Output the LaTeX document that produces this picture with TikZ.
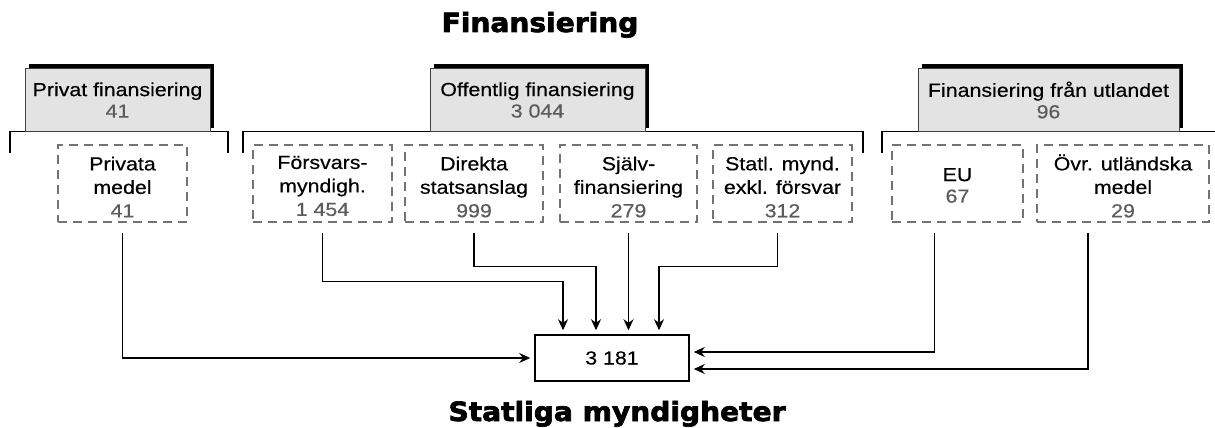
\documentclass[tikz,border=0pt]{standalone}
\usepackage{fontspec}
\setmainfont{Liberation Sans}[FakeStretch=1.13,FakeBold=0.4]
\newfontfamily\titlefont{DejaVu Sans}[UprightFont=*,BoldFont=* Bold,BoldFeatures={FakeBold=2.6},FakeStretch=1.06]
\usetikzlibrary{arrows.meta,shadows}
\definecolor{numgray}{rgb}{0.36,0.36,0.36}
\definecolor{hdrfill}{rgb}{0.89,0.89,0.89}
\newcommand\gnum[1]{\textcolor{numgray}{#1}}
\begin{document}
\begin{tikzpicture}[x=1pt,y=-1pt,
  hdr/.style={draw=black!75,line width=0.8pt,fill=hdrfill,minimum height=63pt,inner sep=0pt,
    drop shadow={shadow xshift=4pt,shadow yshift=3.5pt,fill=black,opacity=1}},
  dbox/.style={draw=black!55,line width=1.2pt,dash pattern=on 9pt off 6pt,minimum height=77pt,inner sep=0pt},
  txt/.style={align=center,inner sep=0pt,font=\fontsize{18.9}{23.5}\selectfont},
  htxt/.style={align=center,inner sep=0pt,font=\fontsize{18.9}{21.5}\selectfont},
  bracket/.style={line width=1.6pt},
  arr/.style={line width=1.3pt,-{Stealth[length=11pt,width=10pt,inset=3.5pt]},shorten >=4pt},
  ttl/.style={anchor=base,inner sep=0pt,font=\titlefont\bfseries\fontsize{26.5}{30}\selectfont}
]
\useasboundingbox (0,0) rectangle (1215,428);

% titles
\node[ttl] (t1) at (540,32) {Finansiering};
\node[ttl] (t2) at (617,421) {Statliga myndigheter};

% brackets
\draw[bracket] (10,153) -- (10,131.5) -- (228,131.5) -- (228,153);
\draw[bracket] (243,153) -- (243,131.5) -- (863,131.5) -- (863,153);
\draw[bracket] (882,153) -- (882,131.5) -- (1215,131.5);

% header boxes
\node[hdr,minimum width=185pt] (ph) at (117.5,99.5) {};
\node[hdr,minimum width=215pt] (of) at (537.5,99.5) {};
\node[hdr,minimum width=261pt] (fu) at (1048.5,99.5) {};
\node[htxt] (pht) at (117.5,100) {Privat finansiering\\\gnum{41}};
\node[htxt] (oft) at (537.5,100) {Offentlig finansiering\\\gnum{3 044}};
\node[htxt] (fut) at (1048.5,100) {Finansiering från utlandet\\\gnum{96}};

% dashed boxes
\node[dbox,minimum width=129pt] (pm) at (122.5,183.5) {};
\node[dbox,minimum width=139pt] (fd) at (322.5,183.5) {};
\node[dbox,minimum width=138pt] (ds) at (474,183.5) {};
\node[dbox,minimum width=137pt] (sf) at (628.5,183.5) {};
\node[dbox,minimum width=139pt] (sm) at (782.5,183.5) {};
\node[dbox,minimum width=131pt] (eu) at (957.5,183.5) {};
\node[dbox,minimum width=172pt] (ov) at (1123,183.5) {};

\node[txt] (pmt) at (122.5,187) {Privata\\medel\\\gnum{41}};
\node[txt] (fdt) at (322.5,186) {Försvars-\\myndigh.\\\gnum{1 454}};
\node[txt] (dst) at (474,187) {Direkta\\statsanslag\\\gnum{999}};
\node[txt] (sft) at (628.5,187) {Själv-\\finansiering\\\gnum{279}};
\node[txt] (smt) at (782.5,187) {Statl. mynd.\\exkl. försvar\\\gnum{312}};
\node[htxt] (eut) at (957.5,185.5) {EU\\\gnum{67}};
\node[txt] (ovt) at (1123,186) {Övr. utländska\\medel\\\gnum{29}};

% central box
\node[draw,line width=1.5pt,minimum width=154pt,minimum height=46pt,inner sep=0pt,
  font=\fontsize{18.9}{22}\selectfont] (C) at (612,358) {3 181};

% connectors
\draw[arr] ([yshift=-10pt]pm.south) |- (C.west);
\draw[arr] ([yshift=-10pt]fd.south) -- ++(0,49) -| ([xshift=-49pt]C.north);
\draw[arr] ([yshift=-10pt]ds.south) -- ++(0,34) -| ([xshift=-16pt]C.north);
\draw[arr] ([yshift=-10pt]sf.south) -- (sf.south |- C.north);
\draw[arr] ([xshift=-5pt,yshift=-10pt]sm.south) -- ++(0,34) -| ([xshift=47pt]C.north);
\draw[arr] ([xshift=-23pt,yshift=-10pt]eu.south) |- ([yshift=6pt]C.east);
\draw[arr] ([xshift=-35pt,yshift=-10pt]ov.south) |- ([yshift=-11pt]C.east);
\end{tikzpicture}
\end{document}
